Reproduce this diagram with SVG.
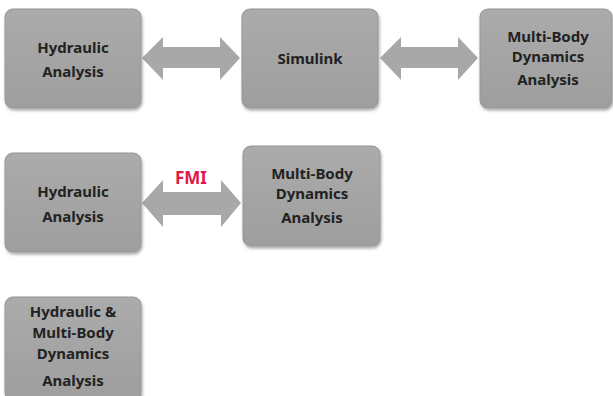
<svg xmlns="http://www.w3.org/2000/svg" width="613" height="396" viewBox="0 0 613 396">
<defs>
<linearGradient id="g" x1="0" y1="0" x2="0" y2="1">
<stop offset="0" stop-color="#ababab"/>
<stop offset="1" stop-color="#9e9e9e"/>
</linearGradient>
<filter id="sh" x="-10%" y="-10%" width="120%" height="120%">
<feGaussianBlur in="SourceAlpha" stdDeviation="1.5"/>
<feOffset dx="1" dy="1.5"/>
<feComponentTransfer><feFuncA type="linear" slope="0.35"/></feComponentTransfer>
<feMerge><feMergeNode/><feMergeNode in="SourceGraphic"/></feMerge>
</filter>
</defs>
<style>
.box{fill:url(#g);stroke:#969696;stroke-width:1;filter:url(#sh)}
.t{font-family:"Noto Sans","Open Sans",sans-serif;font-weight:bold;font-size:15px;fill:#222;text-anchor:middle}
.arr{fill:#a8a8a8}
.fmi{font-family:"Noto Sans","Open Sans",sans-serif;font-weight:bold;font-size:17px;fill:#e0164a;text-anchor:middle}
</style>
<rect width="613" height="396" fill="#fff"/>
<g id="connectors">
<polygon class="arr" points="142,58 163,37 163,47 220,47 220,37 240,58 220,80 220,68 163,68 163,80"/>
<polygon class="arr" points="380,58 401,37 401,47 458,47 458,37 478,58 458,80 458,68 401,68 401,80"/>
<polygon class="arr" points="142,203 163,180 163,192 221,192 221,180 241,203 221,227 221,215 163,215 163,227"/>
<text class="fmi" x="191" y="184">FMI</text>
</g>
<g id="hydraulic1">
<rect class="box" x="5" y="9" width="136" height="99" rx="8"/>
<text class="t" x="73" y="53">Hydraulic</text>
<text class="t" x="73" y="77">Analysis</text>
</g>
<g id="simulink">
<rect class="box" x="242" y="9" width="136" height="99" rx="8"/>
<text class="t" x="310" y="64">Simulink</text>
</g>
<g id="mbd1">
<rect class="box" x="480" y="9" width="132" height="99" rx="8"/>
<text class="t" x="548" y="42">Multi-Body</text>
<text class="t" x="548" y="62">Dynamics</text>
<text class="t" x="548" y="85">Analysis</text>
</g>
<g id="hydraulic2">
<rect class="box" x="5" y="153" width="136" height="99" rx="8"/>
<text class="t" x="73" y="197">Hydraulic</text>
<text class="t" x="73" y="222">Analysis</text>
</g>
<g id="mbd2">
<rect class="box" x="243" y="146" width="137" height="100" rx="8"/>
<text class="t" x="312" y="179">Multi-Body</text>
<text class="t" x="312" y="199">Dynamics</text>
<text class="t" x="312" y="223">Analysis</text>
</g>
<g id="combined">
<rect class="box" x="5" y="297" width="136" height="104" rx="8"/>
<text class="t" x="73" y="317">Hydraulic &amp;</text>
<text class="t" x="73" y="338">Multi-Body</text>
<text class="t" x="73" y="359">Dynamics</text>
<text class="t" x="73" y="386">Analysis</text>
</g>
</svg>
